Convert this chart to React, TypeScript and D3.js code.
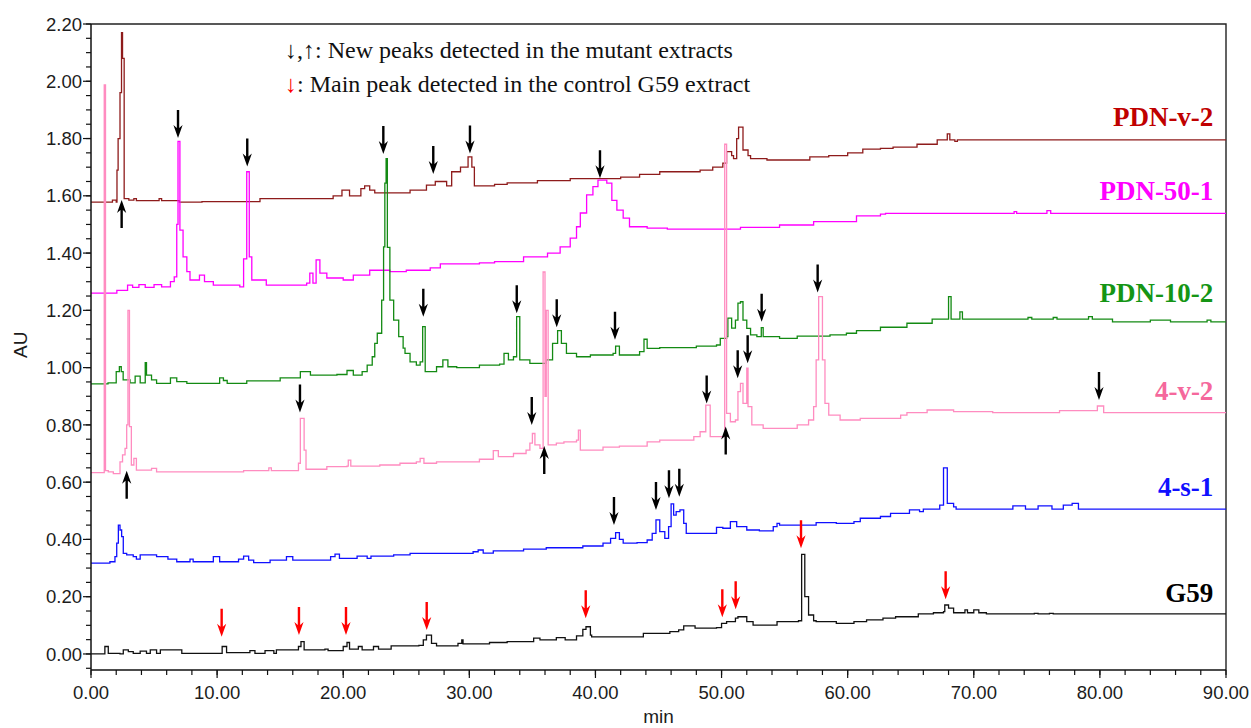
import React, { useEffect, useRef } from 'react';
import * as d3 from 'd3';

type Pt = [number, number];

// retention time (min), absorbance (AU)
const PDN_V2: Pt[] = [
  [0, 1.578], [1.7, 1.585], [2.0, 1.578], [2.06, 1.69], [2.15, 1.8], [2.3, 1.96], [2.42, 2.17], [2.5, 2.08],
  [2.63, 1.59], [3.0, 1.585], [3.4, 1.59], [3.6, 1.583], [5.0, 1.583], [5.4, 1.59], [5.6, 1.583], [7.0, 1.578],
  [8.8, 1.58], [13.4, 1.59], [19.2, 1.6], [19.9, 1.62], [20.5, 1.6], [21.4, 1.625], [21.7, 1.635], [22.1, 1.62],
  [22.5, 1.61], [25.3, 1.62], [26.6, 1.637], [27.3, 1.65], [28.2, 1.635], [28.6, 1.684], [29.3, 1.7], [29.9, 1.736],
  [30.2, 1.7], [30.4, 1.635], [32, 1.64], [33, 1.645], [35.4, 1.653], [38, 1.66], [42, 1.665], [43.5, 1.675],
  [45.1, 1.684], [48.3, 1.69], [49.3, 1.7], [50.1, 1.714], [50.4, 1.754], [50.8, 1.74], [50.95, 1.73], [51.2, 1.8],
  [51.35, 1.84], [51.7, 1.76], [52.1, 1.74], [52.3, 1.73], [53.6, 1.725], [57, 1.736], [58.5, 1.74], [60, 1.75],
  [61.2, 1.763], [62.6, 1.766], [63.6, 1.77], [65.5, 1.78], [67.1, 1.795], [67.9, 1.816], [68.1, 1.795],
  [68.5, 1.79], [68.7, 1.795], [90, 1.795],
];

const PDN_50_1: Pt[] = [
  [0, 1.26], [2.05, 1.27], [2.9, 1.288], [3.3, 1.28], [3.8, 1.29], [4.3, 1.28], [5.0, 1.29], [5.6, 1.282],
  [6.3, 1.3], [6.6, 1.317], [6.8, 1.5], [6.9, 1.79], [7.05, 1.48], [7.3, 1.387], [7.6, 1.335], [7.85, 1.306],
  [8.6, 1.323], [9.0, 1.3], [9.7, 1.288], [11.8, 1.282], [12.1, 1.38], [12.35, 1.684], [12.55, 1.387],
  [12.75, 1.306], [13.9, 1.288], [17.1, 1.295], [17.35, 1.33], [17.6, 1.295], [17.85, 1.376], [18.15, 1.33],
  [18.7, 1.313], [20, 1.306], [20.8, 1.323], [22.1, 1.34], [23.7, 1.335], [25, 1.34], [26.9, 1.348],
  [27.7, 1.362], [30.8, 1.366], [32, 1.37], [34.3, 1.387], [36.2, 1.4], [37.2, 1.422], [38, 1.452],
  [38.5, 1.492], [38.8, 1.54], [39.3, 1.603], [39.8, 1.632], [40.2, 1.655], [40.9, 1.644], [41.3, 1.584],
  [41.7, 1.55], [42.2, 1.522], [42.7, 1.492], [44.1, 1.487], [45.7, 1.484], [48.9, 1.484], [51.5, 1.49],
  [54.6, 1.498], [57.3, 1.51], [60.7, 1.53], [62.6, 1.536], [63, 1.539], [73.2, 1.545], [73.4, 1.539],
  [75.8, 1.548], [76.1, 1.539], [90, 1.539],
];

const PDN_10_2: Pt[] = [
  [0, 0.943], [1.35, 0.947], [2.0, 0.986], [2.25, 1.003], [2.4, 0.986], [2.55, 0.957], [3.1, 0.947],
  [3.5, 0.97], [3.9, 0.947], [4.3, 1.017], [4.4, 0.974], [4.8, 0.957], [5.2, 0.945], [6.3, 0.964],
  [6.8, 0.951], [7.6, 0.945], [10.2, 0.964], [10.5, 0.955], [10.8, 0.945], [12.35, 0.954], [15, 0.964],
  [16.6, 0.986], [17.4, 0.974], [19.5, 0.976], [20.3, 0.99], [20.8, 0.974], [21.5, 0.986], [21.9, 1.009],
  [22.3, 1.038], [22.5, 1.085], [22.7, 1.12], [23.05, 1.236], [23.2, 1.422], [23.3, 1.644], [23.4, 1.73],
  [23.5, 1.42], [23.7, 1.236], [24.0, 1.166], [24.4, 1.108], [24.75, 1.068], [24.9, 1.05], [25.3, 1.02],
  [25.8, 1.009], [26.1, 1.02], [26.3, 1.143], [26.5, 0.986], [27.4, 1.003], [27.9, 1.027], [28.3, 1.003],
  [29, 1.0], [30.8, 1.009], [32.4, 1.012], [32.75, 1.05], [33.1, 1.027], [33.5, 1.038], [33.75, 1.178],
  [34.0, 1.027], [34.8, 1.015], [36.1, 1.027], [36.6, 1.085], [37.0, 1.129], [37.3, 1.085], [37.7, 1.05],
  [38.5, 1.038], [39.6, 1.044], [41.4, 1.05], [41.6, 1.075], [41.9, 1.044], [43.5, 1.056], [43.85, 1.099],
  [44.1, 1.067], [45.1, 1.07], [48, 1.075], [49.6, 1.079], [49.9, 1.102], [50.4, 1.108], [50.5, 1.173],
  [50.8, 1.138], [51.1, 1.166], [51.3, 1.225], [51.5, 1.23], [51.7, 1.166], [52.0, 1.137], [52.3, 1.114],
  [52.8, 1.108], [53.15, 1.14], [53.3, 1.108], [54.6, 1.102], [56, 1.11], [58.6, 1.114], [59.9, 1.12],
  [60.7, 1.129], [62.6, 1.141], [64.7, 1.155], [66.7, 1.169], [68.0, 1.248], [68.2, 1.169], [68.9, 1.195],
  [69.1, 1.169], [74.3, 1.175], [74.6, 1.169], [76.3, 1.175], [76.6, 1.169], [79.1, 1.178], [79.4, 1.169],
  [80.8, 1.169], [81, 1.16], [84, 1.166], [85.6, 1.16], [88.5, 1.166], [88.8, 1.16], [90, 1.16],
];

const FOUR_V2: Pt[] = [
  [0, 0.633], [1.05, 1.987], [1.15, 0.64], [1.37, 0.636], [1.77, 0.63], [2.3, 0.671], [2.5, 0.695],
  [2.7, 0.718], [2.83, 0.8], [2.93, 1.2], [3.05, 0.794], [3.2, 0.66], [3.4, 0.683], [3.6, 0.642],
  [4.8, 0.648], [5.2, 0.636], [9.7, 0.636], [12.1, 0.64], [14.1, 0.65], [14.3, 0.64], [16.45, 0.666],
  [16.6, 0.823], [16.9, 0.712], [17.05, 0.645], [18.7, 0.654], [20.3, 0.656], [20.4, 0.677], [20.6, 0.656],
  [22.9, 0.66], [24.5, 0.666], [25.8, 0.671], [26.1, 0.683], [26.4, 0.666], [27.4, 0.671], [30.8, 0.68],
  [31.9, 0.71], [32.3, 0.689], [33.5, 0.7], [34.5, 0.712], [34.8, 0.736], [35.0, 0.77], [35.2, 0.73],
  [35.6, 0.718], [35.85, 1.334], [36.0, 0.9], [36.1, 1.2], [36.25, 0.73], [36.9, 0.736], [37.5, 0.741],
  [38.5, 0.747], [38.65, 0.782], [38.8, 0.712], [40.6, 0.722], [41.9, 0.726], [44.1, 0.741], [45.1, 0.747],
  [47.8, 0.759], [48.3, 0.776], [48.75, 0.869], [49.1, 0.759], [50.0, 0.759], [50.25, 1.78], [50.4, 0.84],
  [50.7, 0.811], [51.1, 0.817], [51.3, 0.916], [51.5, 0.945], [51.7, 0.875], [52.0, 0.998], [52.1, 0.864],
  [52.4, 0.8], [53.3, 0.788], [56, 0.8], [56.9, 0.817], [57.3, 0.864], [57.5, 1.027], [57.7, 1.248],
  [58.0, 1.027], [58.2, 0.875], [58.5, 0.834], [59.4, 0.817], [61, 0.823], [64.2, 0.834], [64.7, 0.843],
  [66.3, 0.852], [68.4, 0.846], [71.5, 0.843], [76.8, 0.85], [79.5, 0.85], [79.8, 0.866], [80.3, 0.843],
  [90, 0.843],
];

const FOUR_S1: Pt[] = [
  [0, 0.317], [1.5, 0.322], [1.9, 0.34], [2.04, 0.387], [2.17, 0.45], [2.3, 0.433], [2.43, 0.41],
  [2.56, 0.351], [2.83, 0.346], [3.35, 0.34], [3.6, 0.331], [3.9, 0.346], [5.2, 0.34], [6.1, 0.331],
  [6.8, 0.322], [7.85, 0.331], [8.1, 0.322], [9.7, 0.34], [10.2, 0.322], [11.7, 0.331], [12.1, 0.342],
  [12.5, 0.328], [12.9, 0.319], [14.2, 0.328], [15.5, 0.34], [16, 0.328], [19, 0.34], [19.35, 0.349],
  [19.7, 0.334], [21.1, 0.342], [21.9, 0.334], [22.2, 0.342], [24, 0.346], [25.3, 0.351], [28.5, 0.351],
  [30.3, 0.357], [30.7, 0.363], [31.1, 0.352], [31.9, 0.36], [34.3, 0.366], [36.1, 0.371], [39, 0.377],
  [40.6, 0.387], [41.2, 0.404], [41.6, 0.424], [41.9, 0.4], [42.2, 0.387], [43.3, 0.389], [44.1, 0.398],
  [44.5, 0.421], [44.8, 0.468], [45.1, 0.427], [45.5, 0.404], [45.8, 0.445], [46.0, 0.524], [46.2, 0.485],
  [46.4, 0.497], [46.7, 0.503], [47.0, 0.456], [47.2, 0.421], [49.1, 0.421], [49.6, 0.442], [50.1, 0.439],
  [50.7, 0.462], [51.2, 0.445], [52, 0.433], [53, 0.43], [54.1, 0.445], [54.4, 0.456], [54.6, 0.45],
  [57.3, 0.45], [57.5, 0.459], [59.1, 0.456], [60.5, 0.462], [61, 0.474], [62.6, 0.48], [63.4, 0.491],
  [64.9, 0.503], [65.7, 0.497], [66, 0.506], [67.3, 0.52], [67.6, 0.65], [67.9, 0.526], [68.4, 0.514],
  [68.6, 0.506], [73.1, 0.517], [74.1, 0.506], [75.1, 0.517], [76.2, 0.506], [77.1, 0.52], [77.8, 0.526],
  [78.3, 0.506], [90, 0.506],
];

const G59: Pt[] = [
  [0, 0], [1.1, 0.026], [1.37, 0.002], [2.3, 0.0], [2.56, 0.014], [2.96, 0.008], [3.35, 0.002], [3.9, 0.01],
  [4.4, 0.002], [4.7, 0.014], [5.2, 0.002], [5.5, 0.014], [7.2, 0.002], [10.4, 0.026], [10.75, 0.005],
  [12.6, 0.012], [13, 0.002], [13.8, 0.012], [14.5, 0.002], [14.7, 0.014], [16.45, 0.026], [16.65, 0.043],
  [16.9, 0.014], [18.55, 0.017], [18.8, 0.012], [20, 0.026], [20.3, 0.04], [20.5, 0.017], [21.2, 0.026],
  [21.5, 0.014], [22.4, 0.026], [22.8, 0.017], [23.8, 0.028], [26.0, 0.03], [26.35, 0.049], [26.6, 0.066],
  [27, 0.037], [27.4, 0.028], [29.1, 0.037], [29.4, 0.049], [29.5, 0.035], [31.6, 0.04], [33, 0.043],
  [35.1, 0.055], [35.6, 0.049], [36.9, 0.057], [37.6, 0.049], [38.5, 0.063], [39, 0.086], [39.25, 0.095],
  [39.6, 0.066], [39.7, 0.06], [43.8, 0.072], [45.9, 0.078], [46.6, 0.084], [47, 0.098], [47.9, 0.09],
  [49.6, 0.092], [50, 0.107], [50.4, 0.113], [51.1, 0.125], [51.3, 0.13], [52, 0.113], [52.5, 0.101],
  [54.4, 0.113], [56.1, 0.116], [56.35, 0.348], [56.6, 0.2], [56.9, 0.136], [57.3, 0.116], [57.5, 0.113],
  [59.1, 0.107], [60.5, 0.113], [61.5, 0.119], [62.8, 0.125], [63.8, 0.13], [65.6, 0.14], [66.8, 0.144],
  [67.6, 0.148], [67.7, 0.171], [68, 0.16], [68.4, 0.144], [69.3, 0.154], [69.5, 0.144], [70, 0.154],
  [70.4, 0.144], [71, 0.14], [74.8, 0.142], [75.1, 0.14], [76, 0.142], [76.3, 0.14], [90, 0.14],
];

const SERIES_NAMES = ['PDN-v-2', 'PDN-50-1', 'PDN-10-2', '4-v-2', '4-s-1', 'G59'];
const SERIES_DATA = [PDN_V2, PDN_50_1, PDN_10_2, FOUR_V2, FOUR_S1, G59];
// AU level where each trace name sits, at the right edge
const LABEL_LEVELS = [1.844, 1.585, 1.23, 0.887, 0.552, 0.182];

// arrow tips (min, AU)
const NEW_PEAKS_DOWN: Pt[] = [
  [6.9, 1.802], [12.39, 1.702], [23.18, 1.746], [27.14, 1.676], [30.05, 1.748], [40.36, 1.661],
  [26.35, 1.178], [33.76, 1.19], [36.93, 1.141], [41.55, 1.097], [53.18, 1.16], [57.62, 1.262],
  [34.95, 0.8], [48.82, 0.875], [51.28, 0.963], [52.07, 1.015], [16.57, 0.843], [79.93, 0.887],
  [41.47, 0.45], [44.8, 0.503], [45.83, 0.544], [46.65, 0.549],
];
const NEW_PEAKS_UP: Pt[] = [[2.43, 1.585], [2.83, 0.64], [35.94, 0.726], [50.33, 0.794]];
const CONTROL_PEAKS: Pt[] = [
  [10.36, 0.06], [16.49, 0.066], [20.22, 0.066], [26.62, 0.084], [39.23, 0.125], [50.06, 0.128],
  [51.12, 0.156], [56.3, 0.369], [67.77, 0.191],
];

const X_TICKS = d3.range(0, 91, 10);
const Y_TICKS = d3.range(0, 2.21, 0.2);

const LINE_COLORS = ['#8e1b1b', '#ff00ff', '#138a13', '#ff8cc0', '#1010ff', '#111111'];
const LABEL_COLORS = ['#c00000', '#ff00ff', '#159515', '#f5689c', '#1010ff', '#000000'];

const W = 1251;
const H = 728;

const Chromatogram = () => {
  const svgRef = useRef<SVGSVGElement>(null);

  useEffect(() => {
    const svg = d3.select(svgRef.current);
    svg.selectAll('*').remove();

    const x = d3.scaleLinear().domain([0, 90]).range([91, 1226]);
    const y = d3.scaleLinear().domain([-0.056, 2.2]).range([670, 24]);
    const sans = 'Arial, "Liberation Sans", sans-serif';
    const serif = '"Times New Roman", "Liberation Serif", serif';

    // frame
    svg.append('path')
      .attr('d', `M${x(0)},${y(2.2)}H${x(90)}V${y(-0.056)}`)
      .attr('fill', 'none').attr('stroke', '#222').attr('stroke-width', 1.4);

    // traces
    const line = d3.line<Pt>().x(d => x(d[0])).y(d => y(d[1])).curve(d3.curveStepAfter);
    SERIES_DATA.forEach((data, i) => {
      svg.append('path')
        .attr('d', line(data))
        .attr('fill', 'none')
        .attr('stroke', LINE_COLORS[i])
        .attr('stroke-width', 1.3);
    });

    // axes
    const yAxis = svg.append('g').attr('transform', `translate(${x(0)},0)`);
    yAxis.append('line').attr('y1', y(2.2)).attr('y2', y(-0.056)).attr('stroke', '#111').attr('stroke-width', 1.5);
    yAxis.selectAll('line.minor').data(d3.range(-0.05, 2.21, 0.05)).join('line')
      .attr('class', 'minor')
      .attr('x1', -5).attr('x2', 0).attr('y1', d => y(d)).attr('y2', d => y(d))
      .attr('stroke', '#111').attr('stroke-width', 1.2);
    yAxis.selectAll('line.major').data(Y_TICKS).join('line')
      .attr('class', 'major')
      .attr('x1', -8).attr('x2', 0).attr('y1', d => y(d)).attr('y2', d => y(d))
      .attr('stroke', '#111').attr('stroke-width', 1.2);
    yAxis.selectAll('text').data(Y_TICKS).join('text')
      .attr('x', -9).attr('y', d => y(d)).attr('dy', '0.36em')
      .attr('text-anchor', 'end')
      .style('font-family', sans).style('font-size', '18.5px').style('fill', '#1c1c1c')
      .text(d => d.toFixed(2));

    const xAxis = svg.append('g').attr('transform', `translate(0,${y(-0.056)})`);
    xAxis.append('line').attr('x1', x(0)).attr('x2', x(90)).attr('stroke', '#111').attr('stroke-width', 1.5);
    xAxis.selectAll('line.minor').data(d3.range(0, 91, 2)).join('line')
      .attr('class', 'minor')
      .attr('x1', d => x(d)).attr('x2', d => x(d)).attr('y1', 0).attr('y2', 5)
      .attr('stroke', '#111').attr('stroke-width', 1.2);
    xAxis.selectAll('line.major').data(X_TICKS).join('line')
      .attr('class', 'major')
      .attr('x1', d => x(d)).attr('x2', d => x(d)).attr('y1', 0).attr('y2', 8)
      .attr('stroke', '#111').attr('stroke-width', 1.2);
    xAxis.selectAll('text').data(X_TICKS).join('text')
      .attr('x', d => x(d)).attr('y', 29)
      .attr('text-anchor', 'middle')
      .style('font-family', sans).style('font-size', '18.5px').style('fill', '#1c1c1c')
      .text(d => d.toFixed(2));

    svg.append('text')
      .attr('x', x(45)).attr('y', 723)
      .attr('text-anchor', 'middle')
      .style('font-family', sans).style('font-size', '19px').style('fill', '#1c1c1c')
      .text('min');
    svg.append('text')
      .attr('transform', `translate(27,${y(1.08)}) rotate(-90)`)
      .attr('text-anchor', 'middle')
      .style('font-family', sans).style('font-size', '19px').style('fill', '#1c1c1c')
      .text('AU');

    // arrows: tip at (0,0) pointing down
    const arrowPath = 'M-1.2,-28L1.2,-28L1.2,-10L4.6,-13L0,0L-4.6,-13L-1.2,-10Z';
    const drawArrows = (pts: Pt[], color: string, up: boolean) => {
      svg.append('g').selectAll('path').data(pts).join('path')
        .attr('d', arrowPath)
        .attr('transform', d => `translate(${x(d[0])},${y(d[1])})${up ? ' rotate(180)' : ''}`)
        .attr('fill', color);
    };
    drawArrows(NEW_PEAKS_DOWN, '#000', false);
    drawArrows(NEW_PEAKS_UP, '#000', true);
    drawArrows(CONTROL_PEAKS, '#ff0000', false);

    // trace names
    svg.append('g').selectAll('text').data(SERIES_NAMES).join('text')
      .attr('x', x(89)).attr('y', (d, i) => y(LABEL_LEVELS[i]))
      .attr('text-anchor', 'end')
      .style('font-family', serif).style('font-size', '27px').style('font-weight', 'bold')
      .style('fill', (d, i) => LABEL_COLORS[i])
      .text(d => d);

    // legend
    const legend = svg.append('g').style('font-family', serif).style('font-size', '24px').style('fill', '#111');
    legend.append('text').attr('x', 285).attr('y', 58).text('↓,↑: New peaks detected in the mutant extracts');
    const l2 = legend.append('text').attr('x', 285).attr('y', 92);
    l2.append('tspan').style('fill', '#ff0000').text('↓');
    l2.append('tspan').text(': Main peak detected in the control G59 extract');
  }, []);

  return (
    <svg ref={svgRef} width={W} height={H}
      style={{ position: 'absolute', left: 0, top: 0, background: '#fff' }} />
  );
};

export default function App() {
  return <Chromatogram />;
}
